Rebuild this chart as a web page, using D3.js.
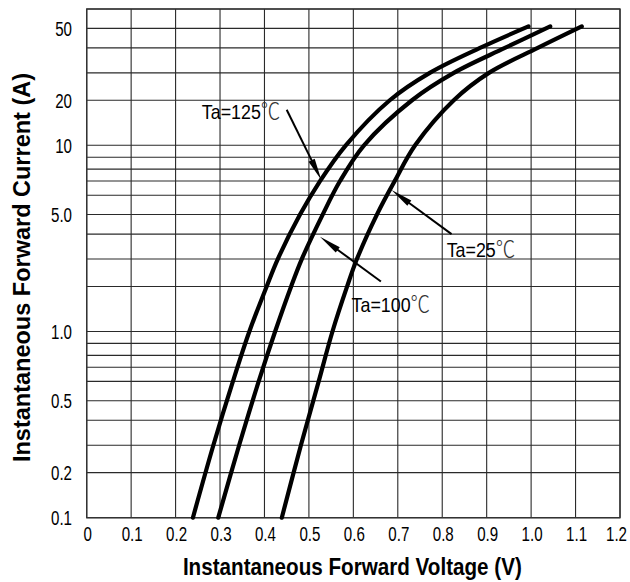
<!DOCTYPE html>
<html>
<head>
<meta charset="utf-8">
<script src="https://cdn.jsdelivr.net/npm/d3@7/dist/d3.min.js"></script>
<style>
  html, body { margin: 0; padding: 0; background: #fff; }
  svg { display: block; }
  text { font-family: "Liberation Sans", Arial, Helvetica, sans-serif; fill: #000; }
</style>
</head>
<body>
<svg id="chart" width="630" height="582"></svg>
<script>
// ---------------- data ----------------
const voltageTicks = [0, 0.1, 0.2, 0.3, 0.4, 0.5, 0.6, 0.7, 0.8, 0.9, 1.0, 1.1, 1.2];
const voltageTickLabels = ["0", "0.1", "0.2", "0.3", "0.4", "0.5", "0.6", "0.7", "0.8", "0.9", "1.0", "1.1", "1.2"];
const currentTicks = [0.1, 0.2, 0.5, 1.0, 5.0, 10, 20, 50];
const currentTickLabels = ["0.1", "0.2", "0.5", "1.0", "5.0", "10", "20", "50"];
const currentGrid = [0.1, 0.2, 0.3, 0.4, 0.5, 0.6, 0.7, 0.8, 0.9,
                     1, 2, 3, 4, 5, 6, 7, 8, 9,
                     10, 20, 30, 40, 50, 60];

// forward current samples (A) and the forward voltage (V) of each curve at them
const currentSamples = [0.1, 0.3, 0.6, 1, 2, 3, 5, 7, 10, 20, 30, 40, 51];
const vf125 = [0.239, 0.285, 0.329, 0.366, 0.405, 0.430, 0.480, 0.525, 0.583, 0.682, 0.772, 0.885, 0.994];
const vf100 = [0.296, 0.343, 0.387, 0.424, 0.460, 0.484, 0.531, 0.570, 0.624, 0.732, 0.826, 0.941, 1.043];
const vf25  = [0.439, 0.482, 0.522, 0.553, 0.586, 0.608, 0.653, 0.693, 0.739, 0.826, 0.905, 1.015, 1.114];
const seriesNames = ["Ta=125℃", "Ta=100℃", "Ta=25℃"];

// annotation anchors in data units (V, A)
const annotations = [
  { name: "Ta=125", textV: 0.259, textI: 15.8, fromV: 0.450, fromI: 17.9, tipV: 0.528, tipI: 7.09 },
  { name: "Ta=25",  textV: 0.810, textI: 3.10, fromV: 0.821, fromI: 4.0,  tipV: 0.686, tipI: 6.36 },
  { name: "Ta=100", textV: 0.596, textI: 1.44, fromV: 0.662, fromI: 2.18, tipV: 0.525, tipI: 3.89 }
];

// ---------------- layout ----------------
const W = 630, H = 582;
const margin = { left: 86.7, top: 9, right: 10, bottom: 64.3 };
const pw = W - margin.left - margin.right;
const ph = H - margin.top - margin.bottom;

// graph-paper spacing of mantissas 1..10 within one decade
const decadeFrac = [0, 0.242, 0.389, 0.523, 0.628, 0.732, 0.808, 0.872, 0.936, 1];
function paperUnit(v) {
  const k = Math.floor(Math.log10(v / 0.1) + 1e-9);
  const m = v / (0.1 * Math.pow(10, k));
  const i = Math.min(8, Math.floor(m + 1e-9) - 1);
  const f = decadeFrac[i] + (m - (i + 1)) * (decadeFrac[i + 1] - decadeFrac[i]);
  return k + f;
}
const uScale = d3.scaleLinear().domain([0, paperUnit(60)]).range([ph, 0]);
const y = d3.scaleLinear().domain(currentGrid).range(currentGrid.map(v => uScale(paperUnit(v))));
const x = d3.scaleLinear().domain([0, 1.2]).range([0, pw]);

const svg = d3.select("#chart");
const g = svg.append("g").attr("transform", `translate(${margin.left},${margin.top})`);

// ---------------- grid ----------------
const gridColor = "#2a2a2a";
g.append("g").selectAll("line").data(currentGrid).join("line")
  .attr("x1", 0).attr("x2", pw)
  .attr("y1", d => y(d)).attr("y2", d => y(d))
  .attr("stroke", gridColor).attr("stroke-width", 1.1);
g.append("g").selectAll("line").data(voltageTicks).join("line")
  .attr("x1", d => x(d)).attr("x2", d => x(d))
  .attr("y1", 0).attr("y2", ph)
  .attr("stroke", gridColor).attr("stroke-width", 1.1);
g.append("rect").attr("x", 0).attr("y", 0).attr("width", pw).attr("height", ph)
  .attr("fill", "none").attr("stroke", "#333").attr("stroke-width", 1.4);

// ---------------- tick labels ----------------
const tickFont = 21, tickSquash = 0.72;
g.append("g").selectAll("text").data(currentTicks).join("text")
  .attr("transform", d => `translate(${-14.7},${y(d) + 7.5}) scale(${tickSquash},1)`)
  .attr("text-anchor", "end")
  .attr("font-size", tickFont)
  .text((d, i) => currentTickLabels[i]);
g.append("g").selectAll("text").data(voltageTicks).join("text")
  .attr("transform", d => `translate(${Math.min(x(d) + 1, pw - 3.5)},${ph + 23.5}) scale(${tickSquash},1)`)
  .attr("text-anchor", "middle")
  .attr("font-size", tickFont)
  .text((d, i) => voltageTickLabels[i]);

// ---------------- axis titles ----------------
svg.append("text")
  .attr("transform", `translate(${margin.left + pw / 2 - 1},575) scale(0.86,1)`)
  .attr("text-anchor", "middle")
  .attr("font-size", 24).attr("font-weight", "bold")
  .text("Instantaneous Forward Voltage (V)");
svg.append("text")
  .attr("transform", `translate(30,267.5) rotate(-90)`)
  .attr("text-anchor", "middle")
  .attr("font-size", 23.5).attr("font-weight", "bold")
  .text("Instantaneous Forward Current (A)");

// ---------------- curves ----------------
const series = [vf125, vf100, vf25].map((vals, k) => ({
  name: seriesNames[k],
  points: currentSamples.map((c, i) => [vals[i], c])
}));
const line = d3.line().x(d => x(d[0])).y(d => y(d[1])).curve(d3.curveCatmullRom.alpha(0.5));
g.append("g").selectAll("path").data(series).join("path")
  .attr("d", d => line(d.points))
  .attr("fill", "none").attr("stroke", "#000").attr("stroke-width", 4.2)
  .attr("stroke-linecap", "round").attr("stroke-linejoin", "round");

// ---------------- annotations ----------------
const ann = g.append("g");
annotations.forEach(a => {
  const qx = x(a.fromV), qy = y(a.fromI);
  const px = x(a.tipV), py = y(a.tipI);
  const dx = px - qx, dy = py - qy, len = Math.hypot(dx, dy);
  const ux = dx / len, uy = dy / len;
  const L = 22, w = 3.4;
  const bx = px - ux * L, by = py - uy * L;
  ann.append("line").attr("x1", qx).attr("y1", qy).attr("x2", bx + ux * 4).attr("y2", by + uy * 4)
    .attr("stroke", "#000").attr("stroke-width", 2);
  ann.append("path")
    .attr("d", `M${px},${py}L${bx - uy * w},${by + ux * w}L${bx + uy * w},${by - ux * w}Z`)
    .attr("fill", "#000");
  const t = ann.append("text")
    .attr("transform", `translate(${x(a.textV)},${y(a.textI)}) scale(0.85,1)`)
    .attr("font-size", 21);
  t.append("tspan").text(a.name);
  t.append("tspan").attr("font-family", "'Noto Sans CJK JP', 'Noto Sans CJK SC', sans-serif")
    .attr("font-weight", 300).attr("font-size", 23).attr("fill", "#333").text("℃");
});
</script>
</body>
</html>
